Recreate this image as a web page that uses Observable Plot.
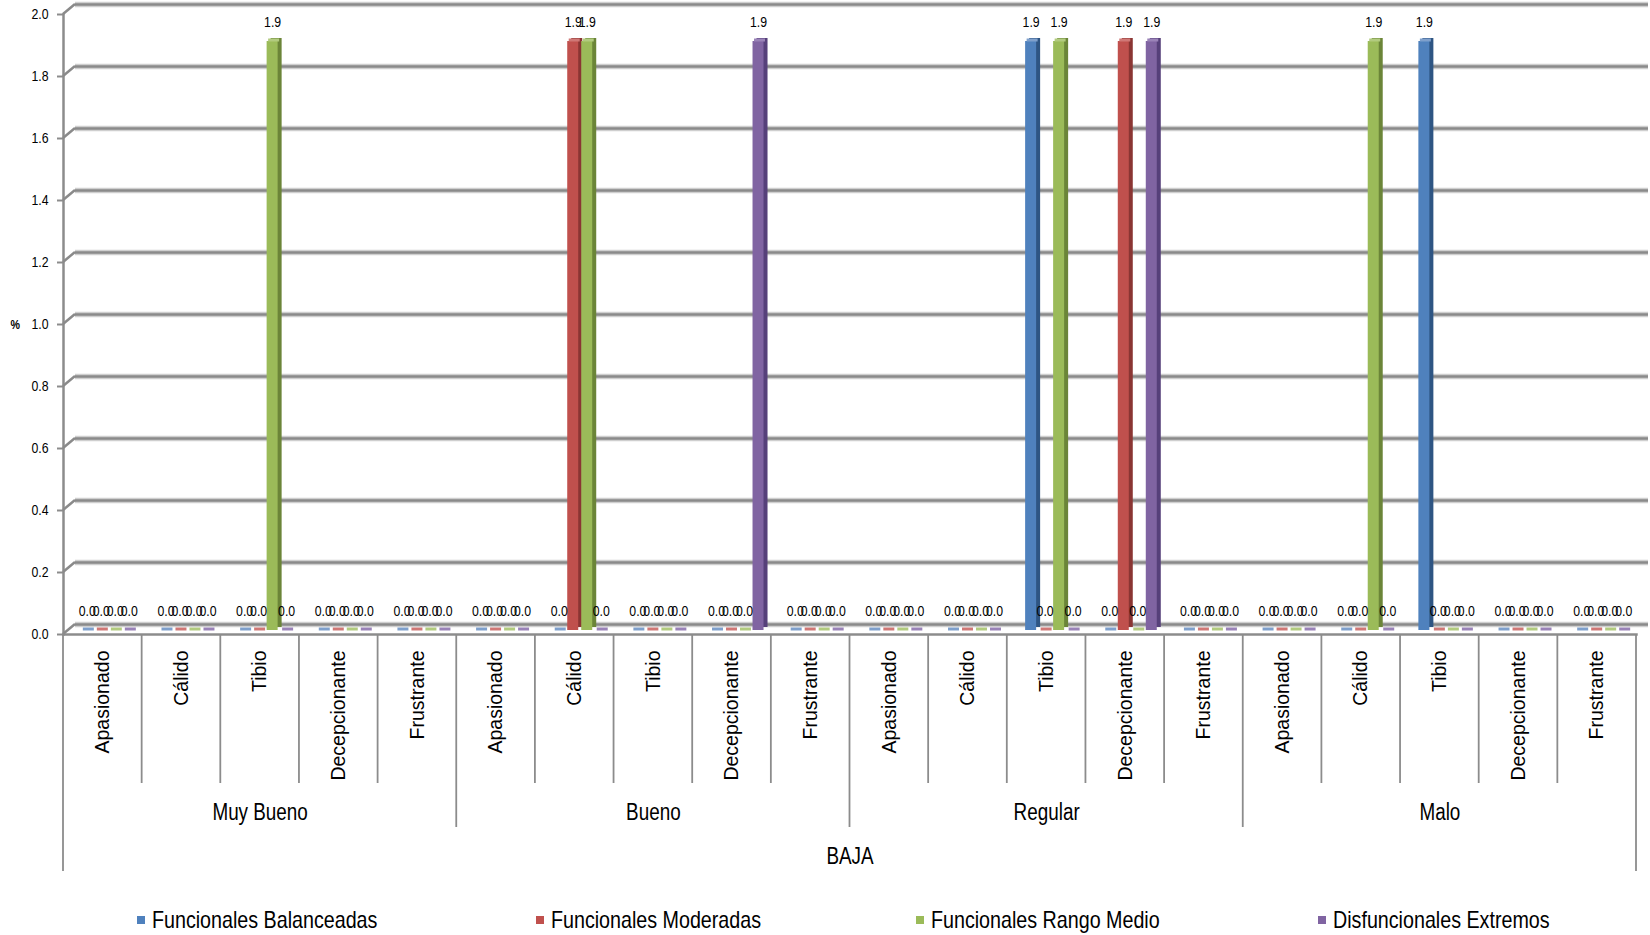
<!DOCTYPE html>
<html>
<head>
<meta charset="utf-8">
<script src="https://cdn.jsdelivr.net/npm/d3@7"></script>
<script src="https://cdn.jsdelivr.net/npm/@observablehq/plot@0.6"></script>
<style>
  body { margin: 0; background: #fff; }
  #chart svg { display: block; }
  #legend { position: relative; width: 1650px; height: 35px; font-family: "Liberation Sans", Arial, sans-serif; font-size: 24px; color: #000; }
  #legend .item { position: absolute; top: 2px; height: 35px; display: flex; align-items: center; white-space: nowrap; }
  #legend .sw { width: 8px; height: 8px; margin-right: 7px; flex: none; }
  #legend .txt { display: inline-block; transform: scaleX(0.82); transform-origin: left center; }
</style>
</head>
<body>
<div id="chart"></div>
<div id="legend"></div>
<script>
// ---- data ----
const outerLabel = "BAJA";
const groups = ["Muy Bueno", "Bueno", "Regular", "Malo"];
const categories = ["Apasionado", "Cálido", "Tibio", "Decepcionante", "Frustrante"];
const series = ["Funcionales Balanceadas", "Funcionales Moderadas", "Funcionales Rango Medio", "Disfuncionales Extremos"];
// values in order: group x category (20 entries)
const balanceadas = [0,0,0,0,0,  0,0,0,0,0,      0,0,1.9,0,0,   0,0,1.9,0,0];
const moderadas   = [0,0,0,0,0,  0,1.9,0,0,0,    0,0,0,1.9,0,   0,0,0,0,0];
const rangoMedio  = [0,0,1.9,0,0, 0,1.9,0,0,0,   0,0,1.9,0,0,   0,1.9,0,0,0];
const extremos    = [0,0,0,0,0,  0,0,0,1.9,0,    0,0,0,1.9,0,   0,0,0,0,0];
const yTicks = [0, 0.2, 0.4, 0.6, 0.8, 1.0, 1.2, 1.4, 1.6, 1.8, 2.0];
const yLabel = "%";

// ---- styles ----
const colors = ["#4F81BD", "#C0504D", "#9BBB59", "#8064A2"];
const sideColors = ["#2E5583", "#8A3533", "#6B8538", "#56407A"];
const topColors = ["#7FA0CC", "#D07876", "#B2CB7F", "#9A83B8"];
const narrow = '"Liberation Sans", Arial, sans-serif';
const regular = '"Liberation Sans", Arial, Helvetica, sans-serif';

const W = 1650, H = 900, mL = 63, mR = 14, mT = 14, mB = 266;

const keys = [];
groups.forEach(g => categories.forEach(c => keys.push(g + "|" + c)));
const seriesValues = [balanceadas, moderadas, rangoMedio, extremos];
const rows = [];
seriesValues.forEach((vals, s) => vals.forEach((v, i) => rows.push({key: keys[i], s, series: series[s], value: v})));

const bw = (W - mL - mR) / keys.length;
const faceW = 11;
const inset = (bw - faceW) / 2;

const groupRows = groups.map(g => ({key: g + "|" + categories[2], label: g}));

function decor(index, scales, values, dim) {
  const x = scales.x, y = scales.y;
  const band = x.bandwidth ? x.bandwidth() : bw;
  const g = d3.create("svg:g");
  const y0 = dim.height - dim.marginBottom;
  // 3D connectors from axis ticks to back-wall gridlines
  for (const t of yTicks) {
    g.append("line")
      .attr("x1", dim.marginLeft).attr("y1", y(t))
      .attr("x2", dim.marginLeft + 12).attr("y2", y(t) - 10)
      .attr("stroke", "#8a8a8a").attr("stroke-width", 2.5);
  }
  // category / group dividers below the axis
  keys.forEach((k, i) => {
    const left = x(k);
    const depth = i === 0 ? 237 : (i % categories.length === 0 ? 193 : 149);
    g.append("line").attr("x1", left).attr("x2", left).attr("y1", y0).attr("y2", y0 + depth)
      .attr("stroke", "#8c8c8c").attr("stroke-width", 1.8);
  });
  const right = x(keys[keys.length - 1]) + band;
  g.append("line").attr("x1", right).attr("x2", right).attr("y1", y0).attr("y2", y0 + 237)
    .attr("stroke", "#8c8c8c").attr("stroke-width", 1.8);
  return g.node();
}

const marks = [
  // back-wall gridlines
  Plot.ruleY(yTicks, {stroke: "#cfcfcf", strokeWidth: 5.5, dx: 12, dy: -10}),
  Plot.ruleY(yTicks, {stroke: "#8a8a8a", strokeWidth: 2.5, dx: 12, dy: -10}),
  // axes lines
  Plot.frame({anchor: "left", stroke: "#8c8c8c", strokeWidth: 2.5}),
  Plot.frame({anchor: "bottom", stroke: "#8c8c8c", strokeWidth: 2.5}),
  decor,
  Plot.axisY({ticks: yTicks, tickFormat: ".1f", tickSize: 6, tickPadding: 9, stroke: "#8c8c8c", strokeWidth: 2, fill: "#000", fontSize: 15, label: null}),
  Plot.axisX({tickSize: 0, tickPadding: 16, tickRotate: -90, tickFormat: k => k.split("|")[1], fontSize: 19.5, fontFamily: regular, fill: "#000", label: null}),
  Plot.text([yLabel], {frameAnchor: "left", dx: -53, fontWeight: "bold", fontSize: 13, fill: "#000"}),
  Plot.text(groupRows, {x: "key", text: "label", frameAnchor: "bottom", dy: 185, fontSize: 23, fill: "#000"}),
  Plot.text([outerLabel], {frameAnchor: "bottom", dy: 229, fontSize: 23, fill: "#000"})
];

series.forEach((name, s) => {
  const data = rows.filter(d => d.s === s);
  const off = 5.5 + (s - 1.5) * 14;
  marks.push(
    Plot.barY(data, {x: "key", y: "value", fill: sideColors[s], insetLeft: inset, insetRight: inset, dx: off + 4, dy: -7}),
    Plot.barY(data, {x: "key", y: "value", fill: colors[s], insetLeft: inset, insetRight: inset, dx: off, dy: -4}),
    Plot.tickY(data, {x: "key", y: "value", stroke: topColors[s], strokeWidth: 3, insetLeft: inset, insetRight: inset, dx: off + 1.5, dy: -5.5})
  );
});
series.forEach((name, s) => {
  const data = rows.filter(d => d.s === s);
  const off = 5.5 + (s - 1.5) * 14;
  marks.push(
    Plot.text(data, {x: "key", y: "value", text: d => d.value.toFixed(1), dx: off, dy: -23, lineAnchor: "middle", fontSize: 15, fill: "#000"})
  );
});

const chart = Plot.plot({
  width: W, height: H,
  marginLeft: mL, marginRight: mR, marginTop: mT, marginBottom: mB,
  style: {fontFamily: narrow, fontSize: "14px", color: "#000", background: "#fff", overflow: "visible"},
  x: {type: "band", domain: keys, padding: 0, round: false, axis: null},
  y: {domain: [0, 2], axis: null},
  marks
});
document.getElementById("chart").appendChild(chart);

// condense the horizontal texts (Arial Narrow look); rotated category labels keep regular width
chart.querySelectorAll("text").forEach(t => {
  const host = t.closest("[font-family]");
  if (host && host.getAttribute("font-family") === regular) return;
  const len = t.getComputedTextLength();
  if (len > 0) {
    t.setAttribute("textLength", (len * 0.82).toFixed(2));
    t.setAttribute("lengthAdjust", "spacingAndGlyphs");
  }
});

// legend
const legendLefts = [137, 536, 916, 1318];
const legend = document.getElementById("legend");
series.forEach((name, s) => {
  const item = document.createElement("div");
  item.className = "item";
  item.style.left = legendLefts[s] + "px";
  const sw = document.createElement("span");
  sw.className = "sw";
  sw.style.background = colors[s];
  const t = document.createElement("span");
  t.className = "txt";
  t.textContent = name;
  item.appendChild(sw); item.appendChild(t);
  legend.appendChild(item);
});
</script>
</body>
</html>
